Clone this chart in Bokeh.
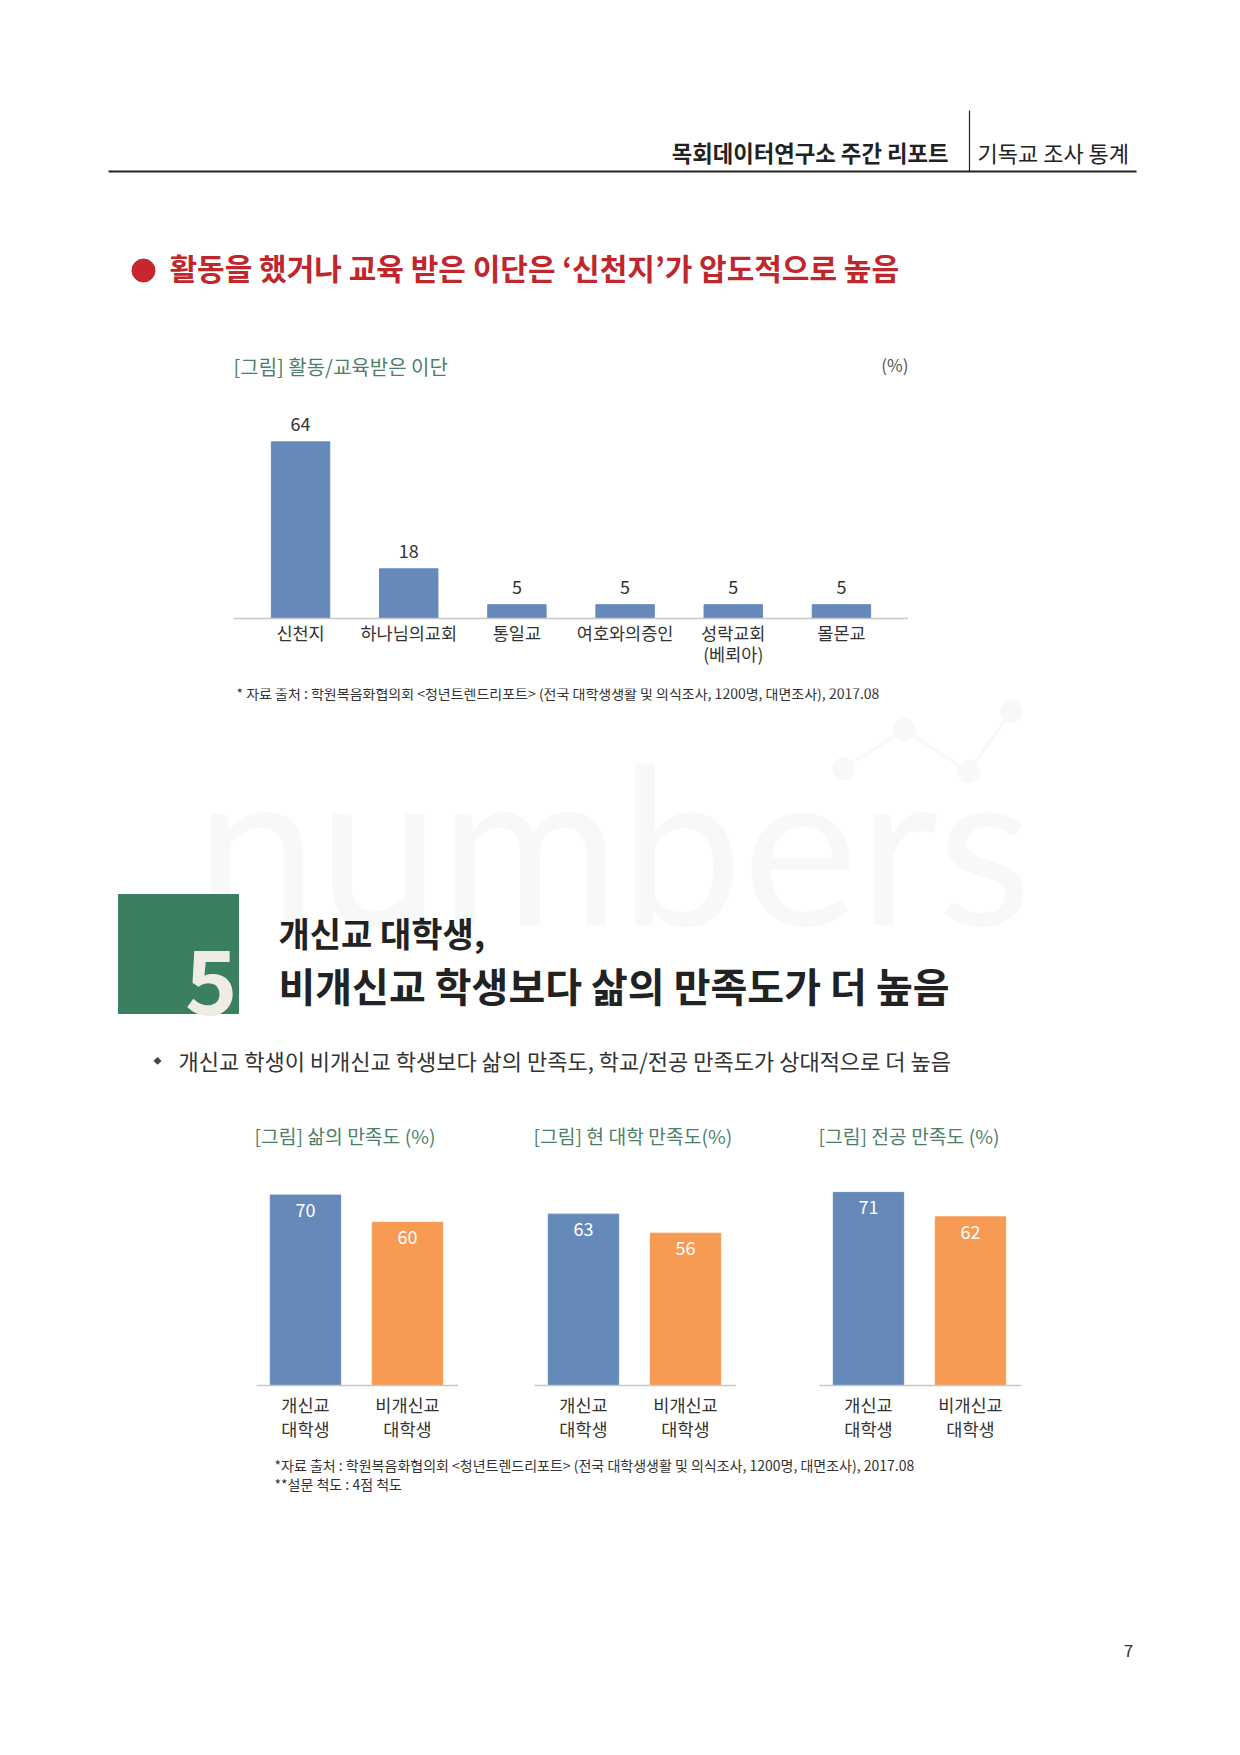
from bokeh.plotting import figure
from bokeh.layouts import column, row
from bokeh.models import Spacer, Range1d, FixedTicker, ColumnDataSource
from bokeh.core.properties import value
from bokeh.embed import file_html
from bokeh.resources import INLINE

# ---------------- data ----------------
cult_cats = ["신천지", "하나님의교회", "통일교", "여호와의증인", "성락교회\n(베뢰아)", "몰몬교"]
cult_vals = [64, 18, 5, 5, 5, 5]

group_cats = ["개신교\n대학생", "비개신교\n대학생"]
life_vals = [70, 60]
univ_vals = [63, 56]
major_vals = [71, 62]

chart1_title = "[그림] 활동/교육받은 이단"
sat_titles = ["[그림] 삶의 만족도 (%)", "[그림] 현 대학 만족도(%)", "[그림] 전공 만족도 (%)"]

FONT = "Noto Sans CJK KR"
BLUE = "#6589b9"
ORANGE = "#f79a54"
GREEN_T = "#4d7f68"
DARK = "#222222"
W = 1224


def canvas(h, y0):
    p = figure(width=W, height=h, x_range=Range1d(0, W), y_range=Range1d(y0 + h, y0),
               x_axis_location=None, y_axis_location=None, output_backend="svg",
               toolbar_location=None, min_border=0)
    p.grid.visible = False
    p.outline_line_color = None
    p.background_fill_color = "white"
    p.border_fill_color = "white"
    return p


def txt(p, x, y, s, size, color=DARK, style="normal", align="left", font=FONT):
    p.text(x=[x], y=[y], text=[s], text_font=value(font), text_font_size=f"{size}px",
           text_font_style=style, text_color=color, text_align=align, text_baseline="middle")


def bar_fig(width, height, cats, vals, colors, x0, x1, ymax, bar_w, top_b, bot_b,
            label_size, standoff, line_h, inside):
    idx = list(range(len(cats)))
    p = figure(width=width, height=height, x_range=Range1d(x0, x1), y_range=Range1d(0, ymax),
               x_axis_location="below", y_axis_location=None, output_backend="svg",
               toolbar_location=None, min_border_left=0, min_border_right=0,
               min_border_top=top_b, min_border_bottom=bot_b)
    p.grid.visible = False
    p.outline_line_color = None
    src = ColumnDataSource(dict(x=idx, top=vals, color=colors, lab=[str(v) for v in vals]))
    p.vbar(x="x", top="top", width=bar_w, bottom=0, color="color", source=src)
    if inside:
        p.text(x="x", y="top", text="lab", source=src, text_font=value(FONT),
               text_font_size="18px", text_color="white", text_align="center",
               text_baseline="middle", y_offset=15)
    else:
        p.text(x="x", y="top", text="lab", source=src, text_font=value(FONT),
               text_font_size="18px", text_color="#333333", text_align="center",
               text_baseline="middle", y_offset=-18)
    ax = p.xaxis[0]
    ax.ticker = FixedTicker(ticks=idx)
    ax.major_label_overrides = {i: c for i, c in enumerate(cats)}
    ax.major_tick_line_color = None
    ax.minor_tick_line_color = None
    ax.axis_line_color = "#c8c8c8"
    ax.axis_line_width = 1.5
    ax.major_label_text_font = FONT
    ax.major_label_text_font_size = f"{label_size}px"
    ax.major_label_text_color = "#333333"
    ax.major_label_standoff = standoff
    ax.major_label_text_line_height = line_h
    return p


# ---------------- section 1: header ----------------
s1 = canvas(398, 0)
s1.segment(x0=[108], y0=[171], x1=[1136], y1=[171], line_color=DARK, line_width=2)
s1.segment(x0=[969], y0=[110], x1=[969], y1=[171], line_color=DARK, line_width=1.2)
txt(s1, 948, 151, "목회데이터연구소 주간 리포트", 22.3, style="bold", align="right")
txt(s1, 977, 151, "기독교 조사 통계", 22)
s1.scatter(x=[143], y=[270], size=23, color="#c8252c")
txt(s1, 169, 266, "활동을 했거나 교육 받은 이단은 ‘신천지’가 압도적으로 높음", 30,
    color="#c0272d", style="bold")
txt(s1, 233, 366, chart1_title, 20, color=GREEN_T)
txt(s1, 908, 364, "(%)", 17, color="#555555", align="right")

# ---------------- section 2: chart 1 ----------------
c1 = bar_fig(675, 290, cult_cats, cult_vals, [BLUE] * len(cult_vals), -0.62, 5.62,
             215 / 2.76, 0.54, 5, 70, 17.5, -5, 0.87, inside=False)
s2 = row(Spacer(width=233, height=290), c1, Spacer(width=W - 233 - 675, height=290))

# ---------------- section 3: text block ----------------
s3 = canvas(471, 692)
wm = "#f7f9f8"
dots_x = [843, 904, 968, 1011]
dots_y = [772, 733, 775, 715]
s3.line(x=dots_x, y=dots_y, line_color=wm, line_width=3)
s3.scatter(x=dots_x, y=dots_y, size=22, color=wm)
txt(s3, 195, 844, "numbers", 219, color=wm, font="Lato")
txt(s3, 236, 696, "* 자료 출처 : 학원복음화협의회 <청년트렌드리포트> (전국 대학생생활 및 의식조사, 1200명, 대면조사),  2017.08",
    14, color="#333333")
s3.quad(left=[118], right=[238], top=[898], bottom=[1017], color="#3a8060")
txt(s3, 237, 985, "5", 89, color="#efece4", style="bold", align="right")
txt(s3, 278, 936, "개신교 대학생,", 34, style="bold")
txt(s3, 278, 988, "비개신교 학생보다 삶의 만족도가 더 높음", 40, style="bold")
txt(s3, 157, 1064, "◆", 8, color="#444444", align="center")
txt(s3, 178, 1063, "개신교 학생이 비개신교 학생보다 삶의 만족도, 학교/전공 만족도가 상대적으로 더 높음",
    22, color="#333333")
for x, t in zip([254, 533, 818], sat_titles):
    txt(s3, x, 1139, t, 19.3, color=GREEN_T)

# ---------------- section 4: three charts ----------------
ymax2 = 216 / 2.72
cols2 = [BLUE, ORANGE]
ca = bar_fig(202, 290, group_cats, life_vals, cols2, -0.48, 1.5, ymax2, 0.69, 10, 64, 17.5, 0, 0.96, True)
cb = bar_fig(202, 290, group_cats, univ_vals, cols2, -0.48, 1.5, ymax2, 0.69, 10, 64, 17.5, 0, 0.96, True)
cc = bar_fig(202, 290, group_cats, major_vals, cols2, -0.48, 1.5, ymax2, 0.69, 10, 64, 17.5, 0, 0.96, True)
s4 = row(Spacer(width=256, height=290), ca, Spacer(width=76, height=290), cb,
         Spacer(width=83, height=290), cc, Spacer(width=W - 256 - 202 * 3 - 76 - 83, height=290))

# ---------------- section 5: footnotes ----------------
s5 = canvas(280, 1457)
txt(s5, 274, 1472, "*자료 출처 : 학원복음화협의회 <청년트렌드리포트> (전국 대학생생활 및 의식조사, 1200명, 대면조사),  2017.08",
    14, color="#333333")
txt(s5, 274, 1491, "**설문 척도 : 4점 척도", 14, color="#333333")
txt(s5, 1128, 1658, "7", 17, color="#333333", align="center")

page = column(s1, s2, s3, s4, s5)
open("out.html", "w").write(file_html(page, INLINE))
